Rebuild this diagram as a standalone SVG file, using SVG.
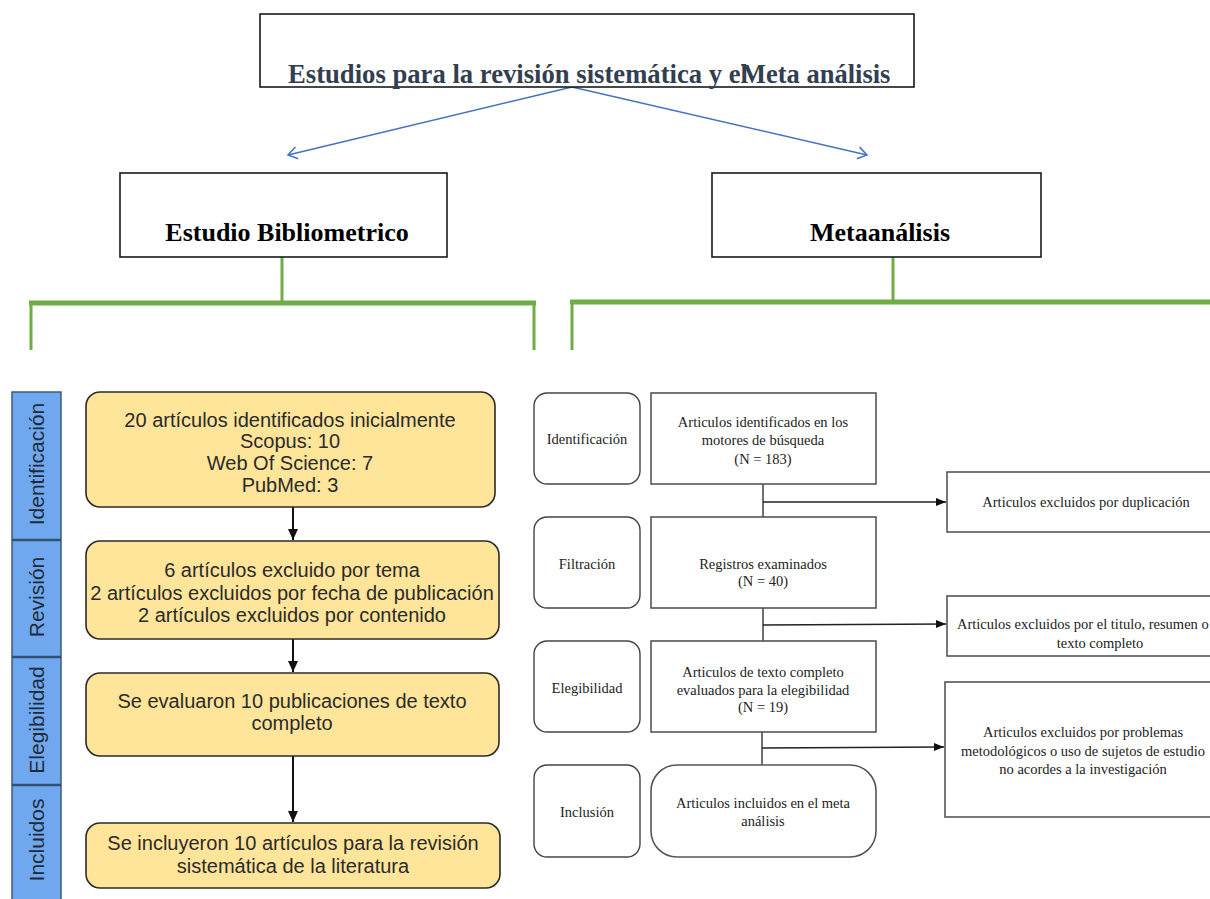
<svg xmlns="http://www.w3.org/2000/svg" width="1210" height="899" viewBox="0 0 1210 899">
<defs>
<style>
.hdr{fill:#fff;stroke:#1a1a1a;stroke-width:1.6}
.title{font-family:"Liberation Serif",serif;font-weight:bold;font-size:26.5px;fill:#333f50}
.sub{font-family:"Liberation Serif",serif;font-weight:bold;font-size:26px;fill:#000;text-anchor:middle}
.green{stroke:#70ad47;fill:none}
.blue{stroke:#4472c4;stroke-width:1.5;fill:none}
.tab{fill:#6fa8ee;stroke:#3b5b82;stroke-width:1.5}
.tabdiv{stroke:#34506f;stroke-width:2.5}
.tabt{font-family:"Liberation Sans",Arial,sans-serif;font-size:21px;fill:#1e2b3a;text-anchor:middle;dominant-baseline:central}
.ybox{fill:#ffe599;stroke:#2a2a2a;stroke-width:1.6}
.yt{font-family:"Liberation Sans",Arial,sans-serif;font-size:20px;fill:#2b2b2b;text-anchor:middle}
.sbox{fill:#fff;stroke:#444;stroke-width:1.4}
.mbox{fill:#fff;stroke:#555;stroke-width:1.6}
.st{font-family:"Liberation Serif","Times New Roman",serif;font-size:14.5px;fill:#222;text-anchor:middle}
.stl{font-family:"Liberation Serif","Times New Roman",serif;font-size:14.5px;fill:#222}
.conn{stroke:#222;stroke-width:1.3;fill:none}
.arr{stroke:#111;stroke-width:2;fill:none}
</style>
<marker id="open" markerWidth="14" markerHeight="14" refX="10" refY="7" orient="auto" markerUnits="userSpaceOnUse">
<path d="M1,1 L10,7 L1,13" fill="none" stroke="#4472c4" stroke-width="1.5"/>
</marker>
<marker id="solid" markerWidth="12" markerHeight="12" refX="11" refY="6" orient="auto" markerUnits="userSpaceOnUse">
<path d="M0,1 L11,6 L0,11 Z" fill="#111"/>
</marker>
<marker id="small" markerWidth="10" markerHeight="10" refX="10" refY="5" orient="auto" markerUnits="userSpaceOnUse">
<path d="M0,1 L10,5 L0,9 Z" fill="#111"/>
</marker>
</defs>
<rect width="1210" height="899" fill="#fff"/>

<g id="connectors">
<line class="blue" x1="572" y1="87" x2="288" y2="155" marker-end="url(#open)"/>
<line class="blue" x1="572" y1="87" x2="867" y2="155" marker-end="url(#open)"/>
<line class="green" stroke-width="3" x1="282" y1="257" x2="282" y2="303"/>
<line class="green" stroke-width="5" x1="29" y1="303" x2="536" y2="303"/>
<line class="green" stroke-width="3" x1="31" y1="303" x2="31" y2="350"/>
<line class="green" stroke-width="3" x1="534" y1="303" x2="534" y2="350"/>
<line class="green" stroke-width="3" x1="893" y1="257" x2="893" y2="302"/>
<line class="green" stroke-width="5" x1="570" y1="302" x2="1210" y2="302"/>
<line class="green" stroke-width="3" x1="572" y1="302" x2="572" y2="350"/>
<line class="arr" x1="293" y1="507" x2="293" y2="540" marker-end="url(#solid)"/>
<line class="arr" x1="293" y1="639" x2="293" y2="672" marker-end="url(#solid)"/>
<line class="arr" x1="293" y1="756" x2="293" y2="822" marker-end="url(#solid)"/>
<line class="conn" x1="763" y1="484" x2="763" y2="517"/>
<line class="conn" x1="763" y1="502" x2="946" y2="502" marker-end="url(#small)"/>
<line class="conn" x1="763" y1="608" x2="763" y2="641"/>
<line class="conn" x1="763" y1="625" x2="946" y2="624" marker-end="url(#small)"/>
<line class="conn" x1="762" y1="732" x2="762" y2="765"/>
<line class="conn" x1="762" y1="748" x2="944" y2="747" marker-end="url(#small)"/>
</g>

<g id="n-top">
<rect class="hdr" x="260" y="14" width="654" height="73"/>
<text class="title" x="288" y="83" textLength="460" lengthAdjust="spacingAndGlyphs">Estudios para la revisión sistemática y el</text>
<text class="title" x="741" y="83">Meta análisis</text>
</g>
<g id="n-biblio">
<rect class="hdr" x="120" y="173" width="327" height="84"/>
<text class="sub" x="287" y="241">Estudio Bibliometrico</text>
</g>
<g id="n-meta">
<rect class="hdr" x="712" y="173" width="329" height="84"/>
<text class="sub" x="880" y="241">Metaanálisis</text>
</g>

<g id="tabs">
<rect class="tab" x="12" y="392" width="49" height="510"/>
<line class="tabdiv" x1="12" y1="540" x2="61" y2="540"/>
<line class="tabdiv" x1="12" y1="657" x2="61" y2="657"/>
<line class="tabdiv" x1="12" y1="785" x2="61" y2="785"/>
<text class="tabt" transform="rotate(-90 36 464)" x="36" y="464">Identificación</text>
<text class="tabt" transform="rotate(-90 36 597)" x="36" y="597">Revisión</text>
<text class="tabt" transform="rotate(-90 36 720)" x="36" y="720">Elegibilidad</text>
<text class="tabt" transform="rotate(-90 36 840)" x="36" y="840">Incluidos</text>
</g>

<g id="n-b1">
<rect class="ybox" x="86" y="392" width="409" height="115" rx="14"/>
<text class="yt" x="290" y="427">20 artículos identificados inicialmente</text>
<text class="yt" x="290" y="448">Scopus: 10</text>
<text class="yt" x="290" y="470">Web Of Science: 7</text>
<text class="yt" x="290" y="492">PubMed: 3</text>
</g>
<g id="n-b2">
<rect class="ybox" x="86" y="541" width="413" height="98" rx="14"/>
<text class="yt" x="292" y="577">6 artículos excluido por tema</text>
<text class="yt" x="292" y="600">2 artículos excluidos por fecha de publicación</text>
<text class="yt" x="292" y="622">2 artículos excluidos por contenido</text>
</g>
<g id="n-b3">
<rect class="ybox" x="86" y="673" width="413" height="83" rx="14"/>
<text class="yt" x="292" y="708">Se evaluaron 10 publicaciones de texto</text>
<text class="yt" x="292" y="730">completo</text>
</g>
<g id="n-b4">
<rect class="ybox" x="86" y="823" width="414" height="65" rx="14"/>
<text class="yt" x="293" y="850">Se incluyeron 10 artículos para la revisión</text>
<text class="yt" x="293" y="873">sistemática de la literatura</text>
</g>

<g id="n-s1">
<rect class="sbox" x="534" y="393" width="106" height="91" rx="13"/>
<text class="st" x="587" y="444">Identificación</text>
</g>
<g id="n-s2">
<rect class="sbox" x="534" y="517" width="106" height="91" rx="13"/>
<text class="st" x="587" y="569">Filtración</text>
</g>
<g id="n-s3">
<rect class="sbox" x="534" y="641" width="106" height="91" rx="13"/>
<text class="st" x="587" y="693">Elegibilidad</text>
</g>
<g id="n-s4">
<rect class="sbox" x="534" y="765" width="106" height="92" rx="13"/>
<text class="st" x="587" y="817">Inclusión</text>
</g>

<g id="n-m1">
<rect class="mbox" x="651" y="393" width="225" height="91"/>
<text class="st" x="763" y="427">Articulos identificados en los</text>
<text class="st" x="763" y="445">motores de búsqueda</text>
<text class="st" x="763" y="464">(N = 183)</text>
</g>
<g id="n-m2">
<rect class="mbox" x="651" y="517" width="225" height="91"/>
<text class="st" x="763" y="569">Registros examinados</text>
<text class="st" x="763" y="586">(N = 40)</text>
</g>
<g id="n-m3">
<rect class="mbox" x="651" y="641" width="225" height="91"/>
<text class="st" x="763" y="677">Articulos de texto completo</text>
<text class="st" x="763" y="695">evaluados para la elegibilidad</text>
<text class="st" x="763" y="712">(N = 19)</text>
</g>
<g id="n-m4">
<rect class="mbox" x="651" y="765" width="225" height="92" rx="26"/>
<text class="st" x="763" y="808">Articulos incluidos en el meta</text>
<text class="st" x="763" y="826">análisis</text>
</g>

<g id="n-e1">
<rect class="mbox" x="947" y="472" width="280" height="60"/>
<text class="st" x="1086" y="507">Articulos excluidos por duplicación</text>
</g>
<g id="n-e2">
<rect class="mbox" x="947" y="596" width="280" height="60"/>
<text class="stl" x="957" y="629">Articulos excluidos por el titulo, resumen o</text>
<text class="st" x="1100" y="648">texto completo</text>
</g>
<g id="n-e3">
<rect class="mbox" x="945" y="682" width="280" height="135"/>
<text class="st" x="1083" y="737">Articulos excluidos por problemas</text>
<text class="st" x="1083" y="756">metodológicos o uso de sujetos de estudio</text>
<text class="st" x="1083" y="774">no acordes a la investigación</text>
</g>
</svg>
